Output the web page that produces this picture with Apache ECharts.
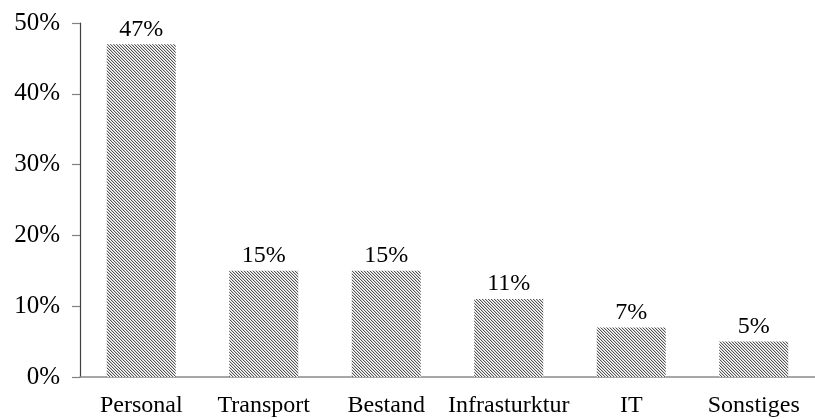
<!DOCTYPE html>
<html>
<head>
<meta charset="utf-8">
<script src="https://cdn.jsdelivr.net/npm/echarts@6/dist/echarts.min.js"></script>
<style>
  html, body { margin: 0; padding: 0; background: #fff; }
  #chart { width: 815px; height: 419px; }
</style>
</head>
<body>
<div id="chart"></div>
<script>
// Cost shares by category (percent)
const categories = ['Personal', 'Transport', 'Bestand', 'Infrasturktur', 'IT', 'Sonstiges'];
const shares = [47, 15, 15, 11, 7, 5];
const yTicks = [0, 10, 20, 30, 40, 50];

// Fine diagonal hatch fill for the bars
function makeHatch() {
  const c = document.createElement('canvas');
  c.width = 3; c.height = 3;
  const ctx = c.getContext('2d');
  ctx.fillStyle = '#ffffff';
  ctx.fillRect(0, 0, 3, 3);
  for (let i = 0; i < 3; i++) {
    ctx.fillStyle = '#555555';
    ctx.fillRect(i, i, 1, 1);
    ctx.fillStyle = '#d0d0d0';
    ctx.fillRect((i + 1) % 3, i, 1, 1);
  }
  return c;
}

const font = '"Liberation Serif", "Times New Roman", serif';
const chart = echarts.init(document.getElementById('chart'), null, { renderer: 'canvas' });
chart.setOption({
  animation: false,
  backgroundColor: '#ffffff',
  grid: { left: 80, right: -9, top: 23, bottom: 42, containLabel: false },
  xAxis: {
    type: 'category',
    data: categories,
    axisLine: { lineStyle: { color: '#8a8a8a', width: 1.5 } },
    axisTick: { show: false },
    axisLabel: { color: '#000', fontFamily: font, fontSize: 24, margin: 17, interval: 0 }
  },
  yAxis: {
    type: 'value',
    min: yTicks[0],
    max: yTicks[yTicks.length - 1],
    interval: 10,
    splitLine: { show: false },
    axisLine: { show: true, lineStyle: { color: '#404040', width: 1.2 } },
    axisTick: { show: true, length: 8, lineStyle: { color: '#808080', width: 1.2 } },
    axisLabel: { color: '#000', fontFamily: font, fontSize: 25, margin: 20, formatter: v => v + '%' }
  },
  series: [{
    type: 'bar',
    data: shares,
    barWidth: 69,
    itemStyle: { color: { image: makeHatch(), repeat: 'repeat' } },
    label: {
      show: true,
      position: 'top',
      distance: 3,
      color: '#000',
      fontFamily: font,
      fontSize: 24,
      formatter: p => p.value + '%'
    }
  }]
});
</script>
</body>
</html>
